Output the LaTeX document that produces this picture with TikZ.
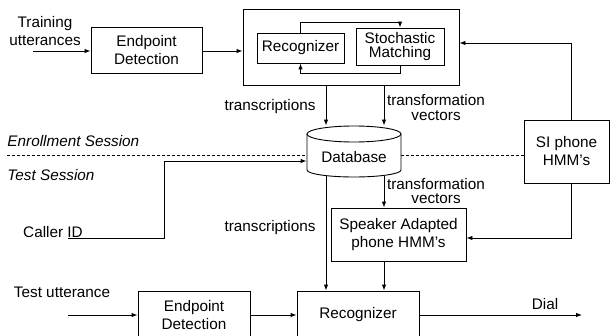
\documentclass[tikz,border=0pt]{standalone}
\usepackage{fontspec}
\setmainfont{Liberation Sans}
\usetikzlibrary{arrows.meta,calc}

\begin{document}
\begin{tikzpicture}[x=1pt,y=-1pt,
  line width=0.9pt,
  every node/.style={font=\fontsize{15.3}{18}\selectfont},
  blk/.style={draw, inner sep=0pt, align=center},
  arr/.style={-{Latex[length=6pt,width=4.5pt]}},
  lbl/.style={align=center, inner sep=0pt},
  sess/.style={font=\fontsize{15.3}{17}\selectfont\itshape, anchor=west, inner sep=0pt},
  sep/.style={dash pattern=on 3pt off 2pt, line width=0.7pt}]
\useasboundingbox (0,0) rectangle (612,336);
\clip (0,0) rectangle (612,336);

% enrollment stage blocks
\node[blk, minimum width=111pt, minimum height=46pt] (ep1) at (146.5,50) {Endpoint\\Detection};
\node[blk, minimum width=216pt, minimum height=76pt] (outer) at (351,47) {};
\node[blk, minimum width=87pt, minimum height=30pt] (rec1) at (300.5,48) {Recognizer};
\node[blk, minimum width=88pt, minimum height=37pt, font=\fontsize{15.3}{14}\selectfont] (sm) at (400,46.5) {Stochastic\\Matching};

% database cylinder
\node[inner sep=0pt, minimum width=94pt, minimum height=50pt] (db) at (354,151) {};
\draw (354,134) ellipse [x radius=47pt, y radius=8pt];
\draw (307,134) -- (307,170) arc[start angle=-180, end angle=0, x radius=47pt, y radius=7pt] -- (401,134);
\node (dbt) at (354,157) {Database};

\node[blk, minimum width=85pt, minimum height=63pt] (si) at (566.5,151.5) {SI phone\\HMM’s};

% test stage blocks
\node[blk, minimum width=135pt, minimum height=53pt] (sa) at (398.5,234.5) {Speaker Adapted\\phone HMM’s};
\node[blk, minimum width=122pt, minimum height=48pt] (rec2) at (358,315) {Recognizer};
\node[blk, minimum width=112pt, minimum height=48pt] (ep2) at (194,315) {Endpoint\\Detection};

% free labels
\node[lbl] (tu) at (45,31) {Training\\utterances};
\node[lbl] (tr1) at (270,107) {transcriptions};
\node[lbl, font=\fontsize{15.3}{15}\selectfont] (tv1) at (436,108) {transformation\\vectors};
\node[lbl, font=\fontsize{15.3}{14}\selectfont] (tv2) at (436,191.5) {transformation\\vectors};
\node[lbl] (tr2) at (270,228) {transcriptions};
\node[sess] (enr) at (7,141) {Enrollment Session};
\node[sess] (tst) at (7,175) {Test Session};
\node[lbl] (cid) at (53,232) {Caller ID};
\node[lbl] (tut) at (62,292) {Test utterance};
\node[lbl] (dial) at (545,304) {Dial};

% connector end points
\coordinate (tuin) at (33,51);
\coordinate (cidin) at (68,238);
\coordinate (tutin) at (68,315);
\coordinate (dialout) at (582,315);
\coordinate (dl) at (7,155);
\coordinate (cA) at ([xshift=-28pt]db.north);
\coordinate (cB) at ([xshift=30pt]db.north);
\coordinate (dA) at ([xshift=-28pt]db.south);
\coordinate (dB) at ([xshift=30pt]db.south);

% session separator
\draw[sep] (dl) -- (dl -| db.west);
\draw[sep] (db.east |- dl) -- (dl -| si.west);

% connectors
\draw[arr] (tuin) -- (tuin -| ep1.west);
\draw[arr] (ep1.east |- tuin) -- (tuin -| outer.west);
\draw[arr] (rec1.north) -- ++(0,-10) -| (sm.north);
\draw[arr] (sm.south) -- ++(0,8) -| (rec1.south);
\draw[arr] ([xshift=5pt]si.north) |- ([yshift=4pt]outer.east);
\draw[arr] (outer.south -| cA) -- (cA);
\draw[arr] (outer.south -| cB) -- (cB);
\draw[arr] (cidin) -- ++(96,0) |- ([yshift=-10pt]db.west);
\draw[arr] ([xshift=5pt]si.south) |- ([yshift=-3.5pt]sa.east);
\draw[arr] (dA) -- (rec2.north -| dA);
\draw[arr] (dB) -- (sa.north -| dB);
\draw[arr] (sa.south -| dB) -- (rec2.north -| dB);
\draw[arr] (tutin) -- (ep2.west);
\draw[arr] (ep2.east) -- (rec2.west);
\draw[arr] (rec2.east) -- (dialout);
\end{tikzpicture}
\end{document}
